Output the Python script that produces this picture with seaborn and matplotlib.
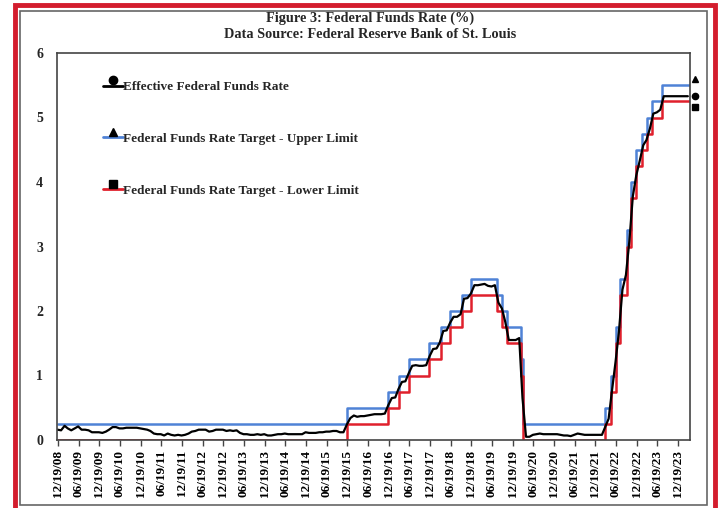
import pandas as pd
import numpy as np
import matplotlib.pyplot as plt
import matplotlib.dates as mdates
import seaborn as sns
from matplotlib.lines import Line2D
from matplotlib.patches import Rectangle
from matplotlib.legend_handler import HandlerBase

# Target range changes (date, upper, lower)
target_dates = ['2008-12-16', '2015-12-17', '2016-12-15', '2017-03-16', '2017-06-15',
                '2017-12-14', '2018-03-22', '2018-06-14', '2018-09-27', '2018-12-20',
                '2019-08-01', '2019-09-19', '2019-10-31', '2020-03-04', '2020-03-16',
                '2022-03-17', '2022-05-05', '2022-06-16', '2022-07-28', '2022-09-22',
                '2022-11-03', '2022-12-15', '2023-02-02', '2023-03-23', '2023-05-04',
                '2023-07-27', '2024-04-03']
upper_limit = [0.25, 0.50, 0.75, 1.00, 1.25, 1.50, 1.75, 2.00, 2.25, 2.50,
               2.25, 2.00, 1.75, 1.25, 0.25, 0.50, 1.00, 1.75, 2.50, 3.25,
               4.00, 4.50, 4.75, 5.00, 5.25, 5.50, 5.50]
lower_limit = [0.00, 0.25, 0.50, 0.75, 1.00, 1.25, 1.50, 1.75, 2.00, 2.25,
               2.00, 1.75, 1.50, 1.00, 0.00, 0.25, 0.75, 1.50, 2.25, 3.00,
               3.75, 4.25, 4.50, 4.75, 5.00, 5.25, 5.25]

# Effective rate, monthly readings Dec 2008 - Mar 2024
effective_rate = [
    0.16,
    0.15, 0.22, 0.18, 0.15, 0.18, 0.21, 0.16, 0.16, 0.15, 0.12, 0.12, 0.12,
    0.11, 0.13, 0.16, 0.20, 0.20, 0.18, 0.18, 0.19, 0.19, 0.19, 0.19, 0.18,
    0.17, 0.16, 0.14, 0.10, 0.09, 0.09, 0.07, 0.10, 0.08, 0.07, 0.08, 0.07,
    0.08, 0.10, 0.13, 0.14, 0.16, 0.16, 0.16, 0.13, 0.14, 0.16, 0.16, 0.16,
    0.14, 0.15, 0.14, 0.15, 0.11, 0.09, 0.09, 0.08, 0.08, 0.09, 0.08, 0.09,
    0.07, 0.07, 0.08, 0.09, 0.09, 0.10, 0.09, 0.09, 0.09, 0.09, 0.09, 0.12,
    0.11, 0.11, 0.11, 0.12, 0.12, 0.13, 0.13, 0.14, 0.14, 0.12, 0.12, 0.24,
    0.34, 0.38, 0.36, 0.37, 0.37, 0.38, 0.39, 0.40, 0.40, 0.40, 0.41, 0.54,
    0.65, 0.66, 0.79, 0.90, 0.91, 1.04, 1.15, 1.16, 1.15, 1.15, 1.16, 1.30,
    1.41, 1.42, 1.51, 1.69, 1.70, 1.82, 1.91, 1.91, 1.95, 2.19, 2.20, 2.27,
    2.40, 2.40, 2.41, 2.42, 2.39, 2.38, 2.40, 2.13, 2.04, 1.83, 1.55, 1.55,
    1.55, 1.58, 0.65, 0.05, 0.05, 0.08, 0.09, 0.10, 0.09, 0.09, 0.09, 0.09,
    0.09, 0.08, 0.07, 0.07, 0.06, 0.08, 0.10, 0.09, 0.08, 0.08, 0.08, 0.08,
    0.08, 0.08, 0.20, 0.33, 0.77, 1.21, 1.68, 2.33, 2.56, 3.08, 3.78, 4.10,
    4.33, 4.57, 4.65, 4.83, 5.06, 5.08, 5.12, 5.33, 5.33, 5.33, 5.33, 5.33,
    5.33, 5.33, 5.33,
]
effective_dates = pd.date_range('2008-12-01', periods=len(effective_rate), freq='MS') + pd.Timedelta(days=14)

# ticks every six months, 12/19/08 ... 12/19/23
tick_dates = [pd.Timestamp('2008-12-19') + pd.DateOffset(months=6 * i) for i in range(31)]

labels = ['Effective Federal Funds Rate',
          'Federal Funds Rate Target - Upper Limit',
          'Federal Funds Rate Target - Lower Limit']

BLUE = '#4f82d6'
RED = '#e0202c'


class MarkerAbove(HandlerBase):
    def create_artists(self, legend, orig, xdescent, ydescent, width, height, fontsize, trans):
        y = (height - ydescent) / 2
        line = Line2D([-xdescent, width - xdescent], [y, y], color=orig.get_color(), lw=2)
        mark = Line2D([(width - xdescent) / 2], [y + 0.55 * height], marker=orig.get_marker(),
                      color='black', ms=6, ls='none')
        line.set_transform(trans)
        mark.set_transform(trans)
        return [line, mark]


def main():
    sns.set_style('white')
    plt.rcParams['font.family'] = ['Liberation Serif', 'DejaVu Serif']
    plt.rcParams['font.weight'] = 'bold'

    fig = plt.figure(figsize=(7.22, 5.08), dpi=100)
    ax = fig.add_axes([57 / 722, 68 / 508, 633 / 722, 387 / 508])

    tgt = pd.DataFrame({'date': pd.to_datetime(target_dates),
                        'upper': upper_limit, 'lower': lower_limit})
    eff = pd.DataFrame({'date': effective_dates, 'rate': effective_rate})

    sns.lineplot(data=tgt, x='date', y='upper', ax=ax, color=BLUE, lw=1.8,
                 drawstyle='steps-post', estimator=None)
    sns.lineplot(data=tgt, x='date', y='lower', ax=ax, color=RED, lw=1.8,
                 drawstyle='steps-post', estimator=None)
    sns.lineplot(data=eff, x='date', y='rate', ax=ax, color='black', lw=1.6, estimator=None)

    xmin, xmax = pd.Timestamp('2008-12-10'), pd.Timestamp('2024-04-03')
    ax.set_xlim(xmin, xmax)
    ax.set_ylim(0, 6)

    # end markers just outside the right edge
    xm = pd.Timestamp('2024-05-20')
    ax.plot([xm], [upper_limit[-1] + 0.1], marker='^', color='black', ms=4.5, clip_on=False)
    ax.plot([xm], [effective_rate[-1]], marker='o', color='black', ms=4.5, clip_on=False)
    ax.plot([xm], [lower_limit[-1] - 0.08], marker='s', color='black', ms=4, clip_on=False)

    ax.set_xticks(tick_dates)
    ax.xaxis.set_major_formatter(mdates.DateFormatter('%m/%d/%y'))
    ax.tick_params(axis='x', bottom=True, rotation=90, labelsize=9.5, length=4, width=1,
                   direction='out', color='#444444', labelcolor='black', pad=3)
    for t in ax.get_xticklabels():
        t.set_fontweight('bold')
    ax.set_yticks(range(7))
    ax.tick_params(axis='y', labelsize=10, length=0, pad=10)
    for t in ax.get_yticklabels():
        t.set_fontweight('bold')
    ax.set_xlabel('')
    ax.set_ylabel('')
    for s in ax.spines.values():
        s.set_color('#444444')
        s.set_linewidth(1.2)

    handles = [Line2D([], [], color='black', marker='o'),
               Line2D([], [], color=BLUE, marker='^'),
               Line2D([], [], color=RED, marker='s')]
    ax.legend(handles, labels, handler_map={Line2D: MarkerAbove()}, loc='upper left',
              bbox_to_anchor=(0.063, 0.945), frameon=False, handlelength=1.5,
              handletextpad=0.0, labelspacing=3.0, borderpad=0,
              prop={'size': 9.5, 'weight': 'bold'})

    fig.text(370 / 722, 1 - 18 / 508, 'Figure 3: Federal Funds Rate (%)', ha='center', va='center',
             fontsize=10.3, fontweight='bold')
    fig.text(370 / 722, 1 - 34 / 508, 'Data Source: Federal Reserve Bank of St. Louis', ha='center',
             va='center', fontsize=10.3, fontweight='bold')

    # picture frame
    fig.patches.append(Rectangle((20 / 722, 3 / 508), 687 / 722, 494 / 508, transform=fig.transFigure,
                                 fill=False, edgecolor='#666666', lw=1.2))
    fig.patches.append(Rectangle((15 / 722, -10 / 508), 700 / 722, 513 / 508, transform=fig.transFigure,
                                 fill=False, edgecolor='#d31d2e', lw=3.5))

    fig.savefig('out.png', dpi=100)
    plt.close(fig)


if __name__ == '__main__':
    main()
